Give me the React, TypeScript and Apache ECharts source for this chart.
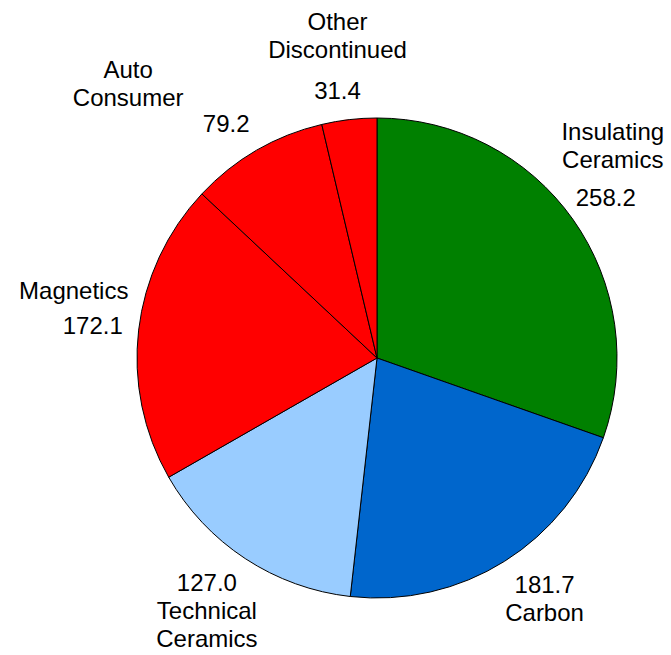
import React, { useEffect, useRef } from "react";
import * as echarts from "echarts";

const categories = [
  "Insulating\nCeramics",
  "Carbon",
  "Technical\nCeramics",
  "Magnetics",
  "Auto\nConsumer",
  "Other\nDiscontinued",
];
const values = [258.2, 181.7, 127.0, 172.1, 79.2, 31.4];
const colors = ["#008000", "#0066CC", "#99CCFF", "#FF0000", "#FF0000", "#FF0000"];

// label placement tuning (not data)
const CENTER: [number, number] = [377, 358];
const RADIUS = 240;
const LABEL_R = 257;
const valueShift: Record<number, [number, number]> = {
  0: [-10, 0],
  1: [2, -3],
  2: [0, -2],
  4: [7, 0],
  5: [-3, 0],
};
const nameShift: Record<number, [number, number]> = {
  0: [7, 0],
  3: [-19, 3],
  4: [-98, 12],
  5: [0, -3],
};

const total = values.reduce((a, b) => a + b, 0);
const midAngles = (() => {
  let acc = 0;
  return values.map((v) => {
    const a0 = acc;
    acc += (v / total) * Math.PI * 2;
    return (a0 + acc) / 2;
  });
})();

const clamp = (v: number) => Math.max(-1, Math.min(1, v));

function valueCenter(i: number, w: number, h: number): [number, number] {
  const a = midAngles[i];
  const s = Math.sin(a);
  const c = Math.cos(a);
  const px = CENTER[0] + LABEL_R * s;
  const py = CENTER[1] - LABEL_R * c;
  const [sx, sy] = valueShift[i] || [0, 0];
  return [px + (w / 2) * clamp(2 * s) + sx, py + (h / 2) * clamp(-2 * c) + sy];
}

export default function App() {
  const ref = useRef<HTMLDivElement>(null);
  useEffect(() => {
    if (!ref.current) return;
    const chart = echarts.init(ref.current, undefined, { renderer: "svg" });
    const data = categories.map((name, i) => ({
      name,
      value: values[i],
      itemStyle: { color: colors[i] },
    }));
    const font = {
      fontFamily: "Liberation Sans, Arial, sans-serif",
      fontSize: 24,
      color: "#000",
    };
    const VH = 24;
    chart.setOption({
      animation: false,
      backgroundColor: "#fff",
      series: [
        {
          type: "pie",
          center: CENTER,
          radius: RADIUS,
          startAngle: 90,
          clockwise: true,
          avoidLabelOverlap: false,
          itemStyle: { borderColor: "#000", borderWidth: 1 },
          emphasis: { disabled: true },
          label: {
            show: true,
            position: "outside",
            ...font,
            lineHeight: VH,
            formatter: (p: any) => Number(p.value).toFixed(1),
          },
          labelLine: { show: false },
          labelLayout: (p: any) => {
            const [x, y] = valueCenter(p.dataIndex, 58, VH);
            return { x, y, align: "center", verticalAlign: "middle" };
          },
          data,
        },
        {
          type: "pie",
          center: CENTER,
          radius: RADIUS,
          startAngle: 90,
          clockwise: true,
          silent: true,
          avoidLabelOverlap: false,
          itemStyle: { color: "rgba(0,0,0,0)", borderWidth: 0 },
          emphasis: { disabled: true },
          label: {
            show: true,
            position: "outside",
            ...font,
            lineHeight: 28,
            formatter: (p: any) => p.name,
          },
          labelLine: { show: false },
          labelLayout: (p: any) => {
            const i = p.dataIndex;
            const [vx, vy] = valueCenter(i, 58, VH);
            const top = Math.cos(midAngles[i]) > 0;
            const [dx, dy] = nameShift[i] || [0, 0];
            if (top) {
              return { x: vx + dx, y: vy - VH / 2 - 12 + dy, align: "center", verticalAlign: "bottom" };
            }
            return { x: vx + dx, y: vy + VH / 2 + 2 + dy, align: "center", verticalAlign: "top" };
          },
          data: categories.map((name, i) => ({ name, value: values[i] })),
        },
      ],
    });
    return () => chart.dispose();
  }, []);
  return (
    <div
      ref={ref}
      style={{ position: "fixed", left: 0, top: 0, width: 671, height: 655 }}
    />
  );
}
